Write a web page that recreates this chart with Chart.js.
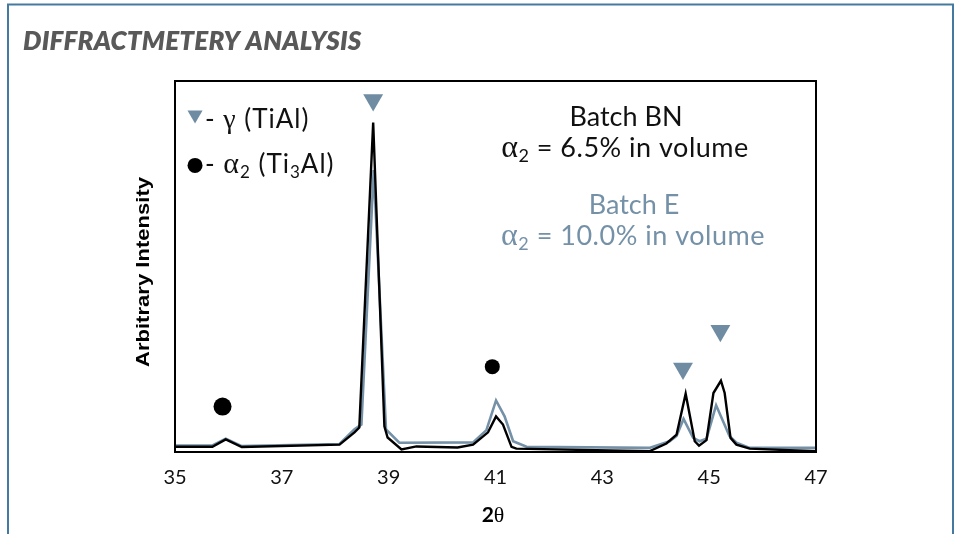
<!DOCTYPE html>
<html>
<head>
<meta charset="utf-8">
<script src="https://cdn.jsdelivr.net/npm/chart.js@4/dist/chart.umd.min.js"></script>
<style>
html,body{margin:0;padding:0;background:#fff;}
#wrap{width:962px;height:534px;position:relative;}
</style>
</head>
<body>
<div id="wrap"><canvas id="c" width="962" height="534"></canvas></div>
<script>
// ---- data (2θ in degrees, arbitrary intensity 0..100) ----
const xTicks = [35, 37, 39, 41, 43, 45, 47];

const batchBN_x = [35.0, 35.70, 35.95, 36.25, 38.08, 38.36, 38.45, 38.71, 38.92, 38.98, 39.24, 39.52, 40.29, 40.58, 40.86, 41.01, 41.14, 41.30, 41.39, 43.88, 44.20, 44.39, 44.56, 44.73, 44.81, 44.95, 45.08, 45.22, 45.29, 45.40, 45.51, 45.76, 47.0];
const batchBN_y = [1.4, 1.4, 3.4, 1.35, 2.0, 5.3, 6.6, 88.8, 6.9, 3.9, 0.7, 1.5, 1.2, 2.0, 5.3, 9.6, 7.4, 1.4, 0.9, 0.2, 2.3, 4.7, 15.7, 2.9, 1.7, 3.2, 15.9, 19.2, 15.9, 3.8, 2.0, 0.9, 0.2];

const batchE_x = [35.0, 35.70, 35.95, 36.25, 38.08, 38.36, 38.49, 38.72, 38.95, 39.20, 40.58, 40.83, 41.01, 41.17, 41.33, 41.58, 43.88, 44.26, 44.39, 44.52, 44.70, 44.82, 44.95, 45.13, 45.38, 45.51, 45.76, 47.0];
const batchE_y = [1.75, 1.75, 3.6, 1.6, 2.15, 6.1, 7.4, 76, 6.1, 2.5, 2.6, 5.9, 13.9, 9.6, 2.9, 1.4, 1.1, 2.9, 4.3, 8.9, 3.8, 2.9, 3.6, 12.6, 4.3, 2.5, 1.1, 1.1];

// phase markers
const gammaPeaks_x = [38.71, 44.51, 45.21];
const gammaPeaks_y = [94.9, 22.5, 32.7];
const alpha2Peaks_x = [35.89, 40.94];
const alpha2Peaks_y = [12.25, 23.0];
const legendMarks_x = [35.375, 35.375];
const legendMarks_y = [90.9, 77.25];

const zip = (xs, ys) => xs.map((x, i) => ({x: x, y: ys[i]}));

const GREY = '#7491a8';
const SERIF = '"Liberation Serif", "DejaVu Serif", serif';
const SANS = 'Lato, "Open Sans", sans-serif';

function drawRuns(ctx, x, y, runs, align, spacing) {
  ctx.letterSpacing = (spacing || 0) + 'px';
  let total = 0;
  runs.forEach(r => { ctx.font = r.font; total += ctx.measureText(r.t).width; });
  let cx = align === 'center' ? x - total / 2 : x;
  ctx.textBaseline = 'alphabetic';
  ctx.textAlign = 'left';
  runs.forEach(r => {
    ctx.font = r.font;
    ctx.fillText(r.t, cx, y + (r.dy || 0));
    cx += ctx.measureText(r.t).width;
  });
  ctx.letterSpacing = '0px';
}

const decor = {
  id: 'decor',
  beforeDraw(chart) {
    const ctx = chart.ctx;
    ctx.save();
    ctx.fillStyle = '#fff';
    ctx.fillRect(0, 0, chart.width, chart.height);
    ctx.strokeStyle = '#4479a0';
    ctx.lineWidth = 2;
    ctx.strokeRect(8, 4.5, 945, 560);
    // title
    ctx.fillStyle = '#595959';
    ctx.font = 'italic 800 26px ' + SANS;
    ctx.letterSpacing = '0.2px';
    ctx.textBaseline = 'alphabetic';
    ctx.fillText('DIFFRACTMETERY ANALYSIS', 23, 50);
    ctx.letterSpacing = '0px';
    ctx.restore();
  },
  afterDatasetsDraw(chart) {
    const ctx = chart.ctx;
    const a = chart.chartArea;
    ctx.save();
    ctx.strokeStyle = '#000';
    ctx.lineWidth = 2;
    ctx.strokeRect(a.left, a.top, a.right - a.left, a.bottom - a.top);

    ctx.fillStyle = '#111';
    const f21 = '26px ' + SANS, s13 = '17px ' + SANS;
    drawRuns(ctx, 205, 128, [
      {t: '- ', font: f21}, {t: 'γ', font: '28px ' + SERIF}, {t: ' (TiAl)', font: f21}
    ], 'left', 1);
    drawRuns(ctx, 205, 173, [
      {t: '- ', font: f21}, {t: 'α', font: '30px ' + SERIF}, {t: '2', font: s13, dy: 5},
      {t: ' (Ti', font: f21}, {t: '3', font: s13, dy: 5}, {t: 'Al)', font: f21}
    ], 'left', 1);

    const f25 = '27px ' + SANS, f28 = '27px ' + SANS, s16 = '18px ' + SANS, g = '32px ' + SERIF;
    drawRuns(ctx, 626, 126, [{t: 'Batch BN', font: f25}], 'center');
    drawRuns(ctx, 625, 157, [
      {t: 'α', font: g}, {t: '2', font: s16, dy: 5}, {t: ' = 6.5% in volume', font: f28}
    ], 'center', 0.5);
    ctx.fillStyle = GREY;
    drawRuns(ctx, 634, 214, [{t: 'Batch E', font: f25}], 'center');
    drawRuns(ctx, 633, 245, [
      {t: 'α', font: g}, {t: '2', font: s16, dy: 5}, {t: ' = 10.0% in volume', font: f28}
    ], 'center', 0.5);

    // axis titles
    ctx.fillStyle = '#000';
    drawRuns(ctx, 493, 522, [
      {t: '2', font: 'bold 21px ' + SANS}, {t: 'θ', font: '22px ' + SERIF}
    ], 'center');

    ctx.save();
    ctx.translate(149, 272);
    ctx.rotate(-Math.PI / 2);
    ctx.font = 'bold 18px "Liberation Sans", Arial, sans-serif';
    const label = 'Arbitrary Intensity';
    const w = ctx.measureText(label).width;
    ctx.scale(190 / w, 1);
    ctx.textAlign = 'center';
    ctx.textBaseline = 'alphabetic';
    ctx.fillText(label, 0, 0);
    ctx.restore();

    ctx.restore();
  }
};

new Chart(document.getElementById('c'), {
  type: 'line',
  data: {
    datasets: [
      {
        label: 'γ markers', data: zip(gammaPeaks_x, gammaPeaks_y).concat([{x: legendMarks_x[0], y: legendMarks_y[0]}]),
        showLine: false, pointStyle: 'triangle', rotation: 180,
        pointRadius: [11.5, 11.5, 11.5, 8.7], backgroundColor: '#6f8ca3', borderWidth: 0, order: 0
      },
      {
        label: 'α2 markers', data: zip(alpha2Peaks_x, alpha2Peaks_y).concat([{x: legendMarks_x[1], y: legendMarks_y[1]}]),
        showLine: false, pointStyle: 'circle',
        pointRadius: [9, 7.5, 7.5], backgroundColor: '#000', borderWidth: 0, order: 0
      },
      {
        label: 'Batch BN', data: zip(batchBN_x, batchBN_y),
        borderColor: '#000', borderWidth: 2.4, pointRadius: 0, tension: 0, fill: false, order: 1
      },
      {
        label: 'Batch E', data: zip(batchE_x, batchE_y),
        borderColor: GREY, borderWidth: 2.6, pointRadius: 0, tension: 0, fill: false, order: 2
      }
    ]
  },
  options: {
    responsive: false,
    animation: false,
    events: [],
    layout: {padding: {left: 175, right: 146, top: 81, bottom: 0}},
    plugins: {legend: {display: false}, tooltip: {enabled: false}},
    scales: {
      x: {
        type: 'linear', min: 35, max: 47,
        afterBuildTicks: s => { s.ticks = xTicks.map(v => ({value: v})); },
        afterFit: s => { s.height = 82; },
        grid: {display: false, drawTicks: false},
        border: {display: false},
        ticks: {padding: 14, color: '#111', font: {family: 'Lato', size: 20}, maxRotation: 0, autoSkip: false}
      },
      y: {
        display: false, min: 0, max: 100
      }
    }
  },
  plugins: [decor]
});
</script>
</body>
</html>
